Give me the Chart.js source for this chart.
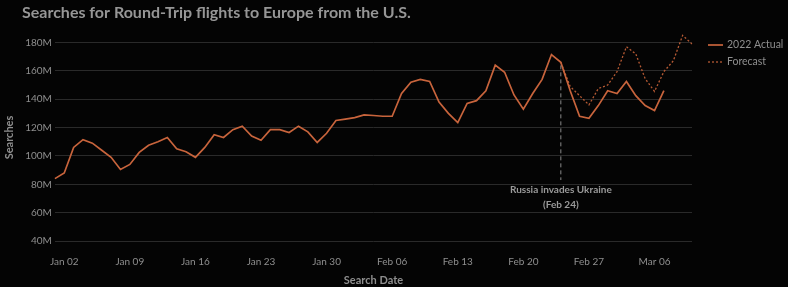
<!DOCTYPE html>
<html>
<head>
<meta charset="utf-8">
<script src="https://cdn.jsdelivr.net/npm/chart.js"></script>
<style>
body{margin:0;background:#040404}
#wrap{width:788px;height:287px}
</style>
</head>
<body>
<div id="wrap"><canvas id="chart"></canvas></div>
<script>
/* =========================
   DATA
========================= */
const dates = [
 "Jan 01","Jan 02","Jan 03","Jan 04","Jan 05","Jan 06","Jan 07","Jan 08","Jan 09","Jan 10",
 "Jan 11","Jan 12","Jan 13","Jan 14","Jan 15","Jan 16","Jan 17","Jan 18","Jan 19","Jan 20",
 "Jan 21","Jan 22","Jan 23","Jan 24","Jan 25","Jan 26","Jan 27","Jan 28","Jan 29","Jan 30","Jan 31",
 "Feb 01","Feb 02","Feb 03","Feb 04","Feb 05","Feb 06","Feb 07","Feb 08","Feb 09","Feb 10",
 "Feb 11","Feb 12","Feb 13","Feb 14","Feb 15","Feb 16","Feb 17","Feb 18","Feb 19","Feb 20",
 "Feb 21","Feb 22","Feb 23","Feb 24","Feb 25","Feb 26","Feb 27","Feb 28",
 "Mar 01","Mar 02","Mar 03","Mar 04","Mar 05","Mar 06","Mar 07","Mar 08","Mar 09","Mar 10"
];

// millions of searches, Jan 01 .. Mar 07
const actual = [
 84,88,106,111.5,109,104,99,90.5,94,102.5,
 107.5,110,113,105,103,99,106,115,113,118.5,
 121,114,111,118.5,118.5,116.5,121,117,109.5,116,125,
 126,127,129,128.5,128,128,144,152,154,152.5,
 138,130,123.5,137,139,146,164,159,143,133,
 144,154,171.5,166,146,128,126.5,135.5,
 146,144,152.5,142.5,135.5,132,146
];

// forecast from Feb 24 .. Mar 10
const forecastStart = "Feb 24";
const forecast = [166,149,142.5,136,147.5,150,159.5,177,172,154.5,145.5,159.5,167,185,179];

const xTickLabels = ["Jan 02","Jan 09","Jan 16","Jan 23","Jan 30","Feb 06","Feb 13","Feb 20","Feb 27","Mar 06"];
const yTicks = [40,60,80,100,120,140,160,180];

const eventDate = "Feb 24";
const eventText = ["Russia invades Ukraine","(Feb 24)"];

/* =========================
   BUILD SERIES
========================= */
const fIdx = dates.indexOf(forecastStart);
const actualData = dates.map((d,i)=> i<actual.length ? actual[i] : null);
const forecastData = dates.map((d,i)=> i>=fIdx ? forecast[i-fIdx] : null);

const TXT = "#8f8f8f";
const FONT = "Lato";

/* =========================
   OVERLAY: title, legend, event marker
========================= */
const overlay = {
 id:"overlay",
 beforeDraw(chart){
  const c=chart.ctx;
  c.save();
  c.fillStyle="#040404";
  c.fillRect(0,0,chart.width,chart.height);
  c.restore();
 },
 afterDraw(chart){
  const c=chart.ctx;
  const x=chart.scales.x, y=chart.scales.y;
  c.save();

  // title
  c.fillStyle="#969696";
  c.font="bold 16px "+FONT;
  c.textBaseline="alphabetic";
  c.textAlign="left";
  c.fillText("Searches for Round-Trip flights to Europe from the U.S.",22,18);

  // legend
  chart.data.datasets.forEach((ds,i)=>{
   const ly=45+i*17;
   c.strokeStyle=ds.borderColor;
   c.lineWidth=ds.borderWidth;
   c.setLineDash(ds.borderDash||[]);
   c.beginPath();c.moveTo(708,ly);c.lineTo(723,ly);c.stroke();
   c.setLineDash([]);
   c.fillStyle=TXT;
   c.font="10.5px "+FONT;
   c.textBaseline="middle";
   c.fillText(ds.label,727,ly);
  });

  // event marker
  const ei=dates.indexOf(eventDate);
  const ex=x.getPixelForValue(ei);
  const top=y.getPixelForValue(actual[ei])+3;
  const bot=y.getPixelForValue(83);
  c.strokeStyle="#8a8a8a";
  c.lineWidth=1;
  c.setLineDash([4,3]);
  c.beginPath();c.moveTo(ex,top);c.lineTo(ex,bot);c.stroke();
  c.setLineDash([]);
  c.fillStyle="#9a9a9a";
  c.font="bold 10px "+FONT;
  c.textAlign="center";
  c.textBaseline="middle";
  c.fillText(eventText[0],ex,bot+10);
  c.fillText(eventText[1],ex,bot+25);

  c.restore();
 }
};

/* =========================
   CHART
========================= */
new Chart(document.getElementById("chart"),{
 type:"line",
 data:{
  labels:dates,
  datasets:[
   {label:"2022 Actual",data:actualData,borderColor:"#c8643c",borderWidth:1.7,pointRadius:0,tension:0},
   {label:"Forecast",data:forecastData,borderColor:"#b65a34",borderWidth:1.3,borderDash:[2,2],pointRadius:0,tension:0}
  ]
 },
 options:{
  responsive:true,
  maintainAspectRatio:false,
  animation:false,
  layout:{padding:{left:3,right:96,top:34,bottom:0}},
  plugins:{legend:{display:false},tooltip:{enabled:false}},
  scales:{
   x:{
    grid:{display:false,drawTicks:false},
    border:{display:false},
    afterFit:axis=>{axis.height=46;},
    ticks:{
     autoSkip:false,maxRotation:0,color:TXT,padding:15,
     font:{family:FONT,size:10},
     callback:(v,i)=> xTickLabels.includes(dates[i]) ? dates[i] : ""
    },
    title:{display:true,text:"Search Date",color:TXT,font:{family:FONT,size:11,weight:"bold"},padding:{top:5,bottom:0}}
   },
   y:{
    min:40,max:186,
    afterBuildTicks:axis=>{axis.ticks=yTicks.map(v=>({value:v}));},
    grid:{color:"#2a2a2a",lineWidth:1,drawTicks:false},
    border:{display:false},
    ticks:{color:TXT,padding:3,font:{family:FONT,size:10},callback:v=>v+"M"},
    title:{display:true,text:"Searches",color:TXT,font:{family:FONT,size:11,weight:"bold"},padding:{top:0,bottom:6}}
   }
  }
 },
 plugins:[overlay]
});
</script>
</body>
</html>
